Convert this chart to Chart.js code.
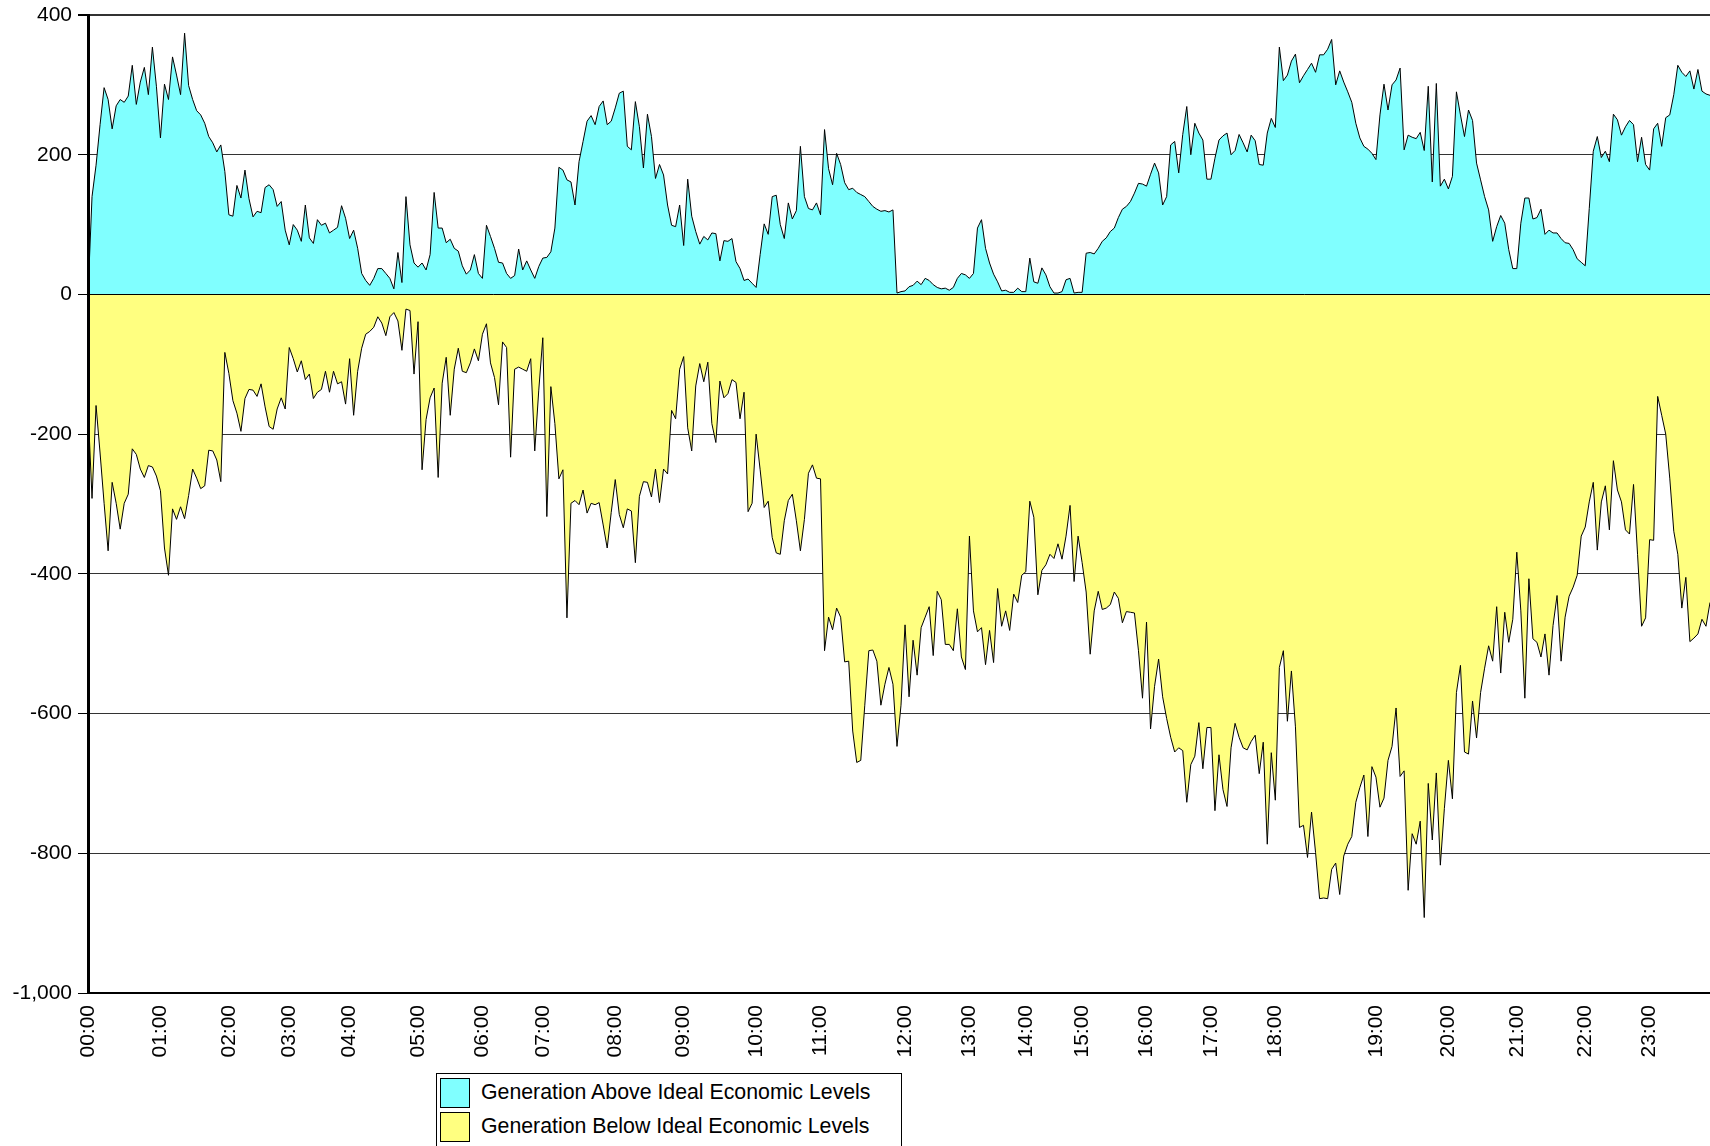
<!DOCTYPE html>
<html>
<head>
<meta charset="utf-8">
<script src="https://cdn.jsdelivr.net/npm/chart.js@4.4.1/dist/chart.umd.min.js"></script>
<style>
  html, body { margin: 0; padding: 0; background: #fff; }
  #wrap { position: relative; width: 1710px; height: 1146px; overflow: hidden; }
  #legend {
    position: absolute; left: 436px; top: 1073px; width: 466px; height: 90px;
    border: 1px solid #000; background: #fff; box-sizing: border-box;
    font: 21.3px "Liberation Sans", Arial, sans-serif; color: #000;
  }
  .item { position: absolute; left: 3px; height: 31px; display: flex; align-items: center; white-space: nowrap; }
  .swatch { width: 28px; height: 28px; border: 1px solid #000; margin-right: 11px; }
</style>
</head>
<body>
<div id="wrap">
  <canvas id="chart" width="1710" height="1146"></canvas>
  <div id="legend"></div>
</div>
<script>
// hour ticks: label and the index of the first reading in that hour
const hourLabels = ['00:00','01:00','02:00','03:00','04:00','05:00','06:00','07:00','08:00','09:00','10:00','11:00',
                    '12:00','13:00','14:00','15:00','16:00','17:00','18:00','19:00','20:00','21:00','22:00','23:00'];
const hourStarts = [0,18,35,50,65,82,98,113,131,148,166,182,203,219,233,247,263,279,295,320,338,355,372,388];

const seriesNames = ['Generation Above Ideal Economic Levels', 'Generation Below Ideal Economic Levels'];

const aboveValues = [
    0,140,185,243,296,279,237,270,279,275, 284,328,272,304,325,286,354,298,224,301,
    279,340,314,286,374,299,279,263,257,245, 226,217,204,214,176,114,112,156,138,178,
    137,111,119,117,153,157,150,126,133,92, 71,100,92,76,128,81,73,107,99,102,
    88,92,96,127,109,80,92,66,
    30,20,13,23,37,37,30,23,8,60, 17,140,71,45,39,45,35,57,146,95,
    95,74,79,66,62,41,29,35,57,30, 23,99,83,66,46,45,30,23,27,65,
    35,48,35,23,40,52,53,61,95,182, 178,164,161,128,190,219,248,256,243,269,
    277,243,248,267,288,291,212,
    207,276,240,181,258,226,166,186,171,128, 99,97,128,70,165,112,90,72,83,78,
    88,87,48,77,76,80,47,37,20,22, 16,10,57,101,86,140,142,100,80,131,
    108,120,212,140,123,121,131,114,236,180, 157,202,186,160,150,152,146,143,140,133,
    126,122,119,120,118,121,2,
    4,5,11,13,19,14,23,20,14,10, 8,9,6,10,23,30,28,23,30,95,
    107,66,45,29,18,5,6,3,3,9, 4,4,52,18,16,38,28,11,2,2,
    4,21,23,2,3,3,59,60,58,66, 76,81,90,95,110,122,126,133,145,159,
    158,155,172,188,174,128,140,
    214,219,174,229,269,200,245,231,221,165, 165,195,221,227,231,200,206,229,217,204,
    228,220,186,185,231,252,239,354,306,314, 334,344,303,313,322,331,318,343,343,351,
    365,300,320,304,290,275,245,224,212,208, 202,193,257,301,264,300,307,324,207,228,
    225,223,232,206,298,161,302,
    155,165,151,169,290,257,226,264,249,188, 164,140,121,76,97,113,102,64,37,37,
    102,138,138,108,110,122,86,92,88,88, 80,74,73,64,51,46,41,123,205,226,
    196,205,190,258,250,228,240,249,243,190, 225,186,178,237,245,212,253,257,286,328,
    318,312,320,294,322,291,287,285
];

const belowValues = [
    -161,-292,-159,-227,-299,-367,-269,-299,-336,-299, -286,-221,-229,-250,-262,-245,-247,-260,-281,-363,
    -402,-307,-322,-304,-321,-288,-250,-263,-278,-274, -223,-224,-237,-268,-83,-113,-152,-170,-196,-149,
    -136,-137,-146,-128,-161,-189,-193,-164,-148,-164, -76,-92,-111,-95,-122,-114,-149,-140,-136,-110,
    -140,-110,-128,-125,-157,-92,-173,-110,
    -77,-57,-53,-47,-32,-41,-59,-32,-26,-38, -80,-21,-23,-114,-39,-251,-179,-148,-134,-262,
    -127,-90,-173,-107,-77,-110,-112,-98,-78,-95, -57,-42,-98,-119,-158,-68,-76,-233,-107,-104,
    -107,-110,-92,-224,-137,-62,-318,-132,-185,-264, -251,-463,-299,-295,-301,-280,-313,-299,-301,-298,
    -330,-363,-312,-265,-315,-334,-307,
    -310,-384,-289,-268,-269,-290,-250,-298,-250,-257, -166,-178,-107,-89,-191,-224,-131,-99,-125,-97,
    -185,-212,-124,-148,-142,-122,-126,-178,-140,-311, -299,-200,-251,-305,-296,-348,-370,-372,-324,-295,
    -286,-324,-367,-322,-256,-244,-263,-264,-510,-462, -480,-449,-462,-526,-525,-625,-670,-667,-588,-510,
    -509,-525,-588,-558,-534,-558,-647,
    -588,-473,-576,-495,-545,-477,-462,-447,-517,-425, -437,-501,-501,-510,-450,-519,-537,-346,-453,-483,
    -477,-530,-481,-527,-421,-475,-453,-481,-429,-441, -402,-397,-296,-319,-430,-395,-387,-372,-378,-357,
    -379,-346,-302,-411,-346,-384,-426,-515,-453,-425, -451,-449,-444,-426,-435,-470,-454,-455,-456,-510,
    -578,-469,-622,-561,-522,-576,-607,
    -634,-655,-649,-653,-727,-673,-661,-613,-679,-620, -620,-739,-659,-709,-733,-649,-614,-634,-649,-652,
    -640,-631,-686,-641,-787,-656,-724,-534,-510,-611, -539,-619,-763,-760,-806,-741,-799,-865,-864,-865,
    -823,-814,-859,-804,-787,-776,-727,-706,-688,-776, -676,-691,-734,-721,-667,-647,-592,-690,-682,-853,
    -772,-787,-754,-892,-700,-781,-685,
    -817,-736,-667,-722,-570,-531,-655,-658,-582,-635, -570,-535,-503,-525,-447,-542,-455,-498,-465,-369,
    -453,-578,-407,-493,-498,-519,-486,-545,-474,-431, -525,-462,-432,-419,-402,-346,-333,-297,-269,-366,
    -297,-274,-337,-238,-280,-297,-337,-343,-272,-372, -475,-463,-351,-352,-146,-173,-200,-263,-339,-372,
    -449,-405,-497,-492,-486,-465,-475,-441
];

const yTicks = { min: -1000, max: 400, step: 200 };

const FONT = '"Liberation Sans", Arial, sans-serif';
const aboveColor = '#80ffff';
const belowColor = '#ffff80';

// one label per reading, only the first reading of each hour carries text
const labels = aboveValues.map(() => '');
hourStarts.forEach((idx, k) => { labels[idx] = hourLabels[k]; });

// the original chart outlines the areas along the zero line as well
const zeroLine = {
    id: 'zeroLine',
    afterDatasetsDraw(chart) {
        const { ctx, chartArea, scales } = chart;
        const y = Math.round(scales.y.getPixelForValue(0)) + 0.5;
        ctx.save();
        ctx.strokeStyle = '#000';
        ctx.lineWidth = 1;
        ctx.beginPath();
        ctx.moveTo(chartArea.left, y);
        ctx.lineTo(chartArea.right, y);
        ctx.stroke();
        ctx.restore();
    }
};

const ctx = document.getElementById('chart').getContext('2d');
const chart = new Chart(ctx, {
    type: 'line',
    data: {
        labels: labels,
        datasets: [
            {
                label: seriesNames[0],
                data: aboveValues,
                borderColor: '#000',
                backgroundColor: aboveColor,
                borderWidth: 1,
                pointRadius: 0,
                tension: 0,
                fill: 'origin',
            },
            {
                label: seriesNames[1],
                data: belowValues,
                borderColor: '#000',
                backgroundColor: belowColor,
                borderWidth: 1,
                pointRadius: 0,
                tension: 0,
                fill: 'origin',
            }
        ]
    },
    options: {
        responsive: false,
        animation: false,
        events: [],
        layout: { padding: { top: 15, right: 0, left: 0, bottom: 0 } },
        plugins: {
            legend: { display: false },
            tooltip: { enabled: false }
        },
        scales: {
            x: {
                type: 'category',
                offset: false,
                grid: { display: false, drawTicks: true, tickLength: 8 },
                border: { display: true, color: '#000', width: 2, z: 1 },
                ticks: {
                    autoSkip: false,
                    minRotation: 90,
                    maxRotation: 90,
                    padding: 4,
                    color: '#000',
                    font: { family: FONT, size: 21 },
                    callback: function (val) {
                        const l = this.getLabelForValue(val);
                        return l === '' ? null : l;
                    }
                },
                afterFit: (scale) => { scale.height = 153; }
            },
            y: {
                min: yTicks.min,
                max: yTicks.max,
                grid: {
                    color: '#333',
                    lineWidth: (c) => (c.tick && c.tick.value === yTicks.max ? 2 : 1),
                    tickLength: 10,
                    tickColor: '#000'
                },
                border: { display: true, color: '#000', width: 3, z: 1 },
                ticks: {
                    stepSize: yTicks.step,
                    padding: 6,
                    color: '#000',
                    font: { family: FONT, size: 21 }
                },
                afterFit: (scale) => {
                    scale.width = 88;
                    scale.paddingTop = 0;
                    scale.paddingBottom = 0;
                }
            }
        }
    },
    plugins: [zeroLine]
});

// legend box, built from the datasets
const legend = document.getElementById('legend');
chart.data.datasets.forEach((ds, k) => {
    const item = document.createElement('div');
    item.className = 'item';
    item.style.top = (3 + k * 34) + 'px';
    item.innerHTML = `<span class="swatch" style="background:${ds.backgroundColor}"></span>${ds.label}`;
    legend.appendChild(item);
});
</script>
</body>
</html>
